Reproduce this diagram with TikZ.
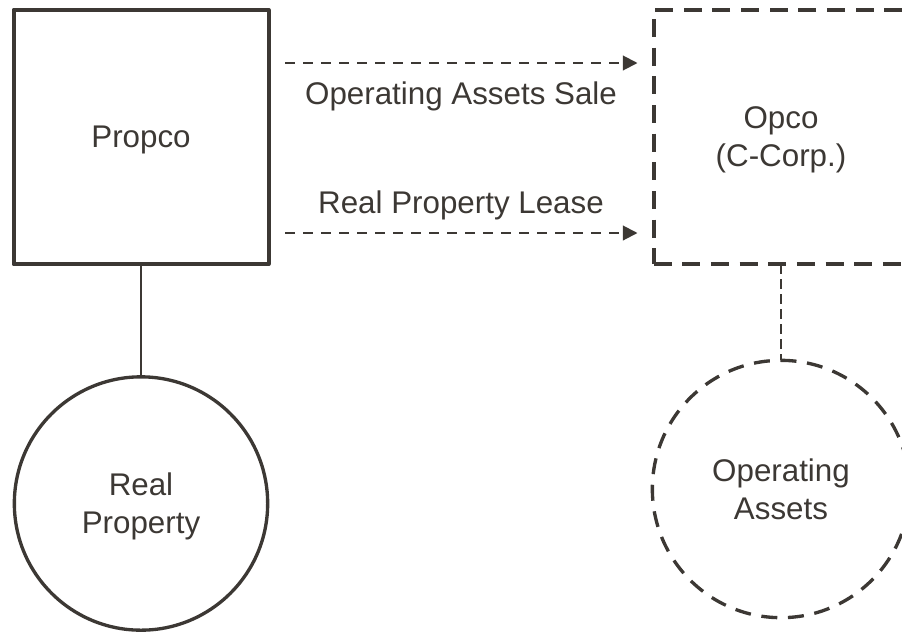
\documentclass[tikz,border=0pt]{standalone}
\usepackage{fontspec}
\setmainfont{Liberation Sans}
\usetikzlibrary{arrows.meta,calc}
\definecolor{ink}{RGB}{60,56,52}
\begin{document}
\begin{tikzpicture}[x=0.75pt,y=-0.75pt,
  every node/.style={text=ink, align=center, inner sep=0pt, outer sep=0pt,
    text depth=0pt, font=\fontsize{23.5}{28.5}\selectfont},
  entity/.style={draw=ink, rectangle, line width=3pt, line join=round,
    minimum width=191.25pt, minimum height=191pt},
  dashedentity/.style={entity, dash pattern=on 13.5pt off 8pt},
  asset/.style={draw=ink, circle, line width=2.5pt, minimum size=190pt},
  dashedasset/.style={asset, minimum size=193pt, dash pattern=on 12pt off 8pt},
  flow/.style={draw=ink, line width=1.5pt, dash pattern=on 7.5pt off 6pt,
    -{Triangle[length=11pt,width=11pt]}, shorten <=12.4pt, shorten >=12pt},
  owns/.style={draw=ink, line width=1.5pt},
  ownsdashed/.style={draw=ink, line width=1.1pt, dash pattern=on 7.5pt off 3.75pt}
]
\useasboundingbox (0,0) rectangle (902,633);

% entities
\node[entity] (propco) at (141,137) {Propco};
\node[dashedentity] (opco) at (781,137) {Opco\\(C-Corp.)};

% assets held
\node[asset] (realprop) at (141,503.5) {Real\\Property};
\node[dashedasset] (opassets) at (781,489) {Operating\\Assets};

% ownership links
\draw[owns] (propco.south) -- (realprop.north);
\draw[ownsdashed] (opco.south) -- (opassets.north);

% transactions between the two companies
\draw[flow] ($(propco.east)+(0,-74)$) -- ($(opco.west)+(0,-74)$)
  node[midway, yshift=-22.5pt] (salelabel) {Operating Assets Sale};
\draw[flow] ($(propco.east)+(0,96)$) -- ($(opco.west)+(0,96)$)
  node[midway, yshift=23.25pt] (leaselabel) {Real Property Lease};
\end{tikzpicture}
\end{document}
